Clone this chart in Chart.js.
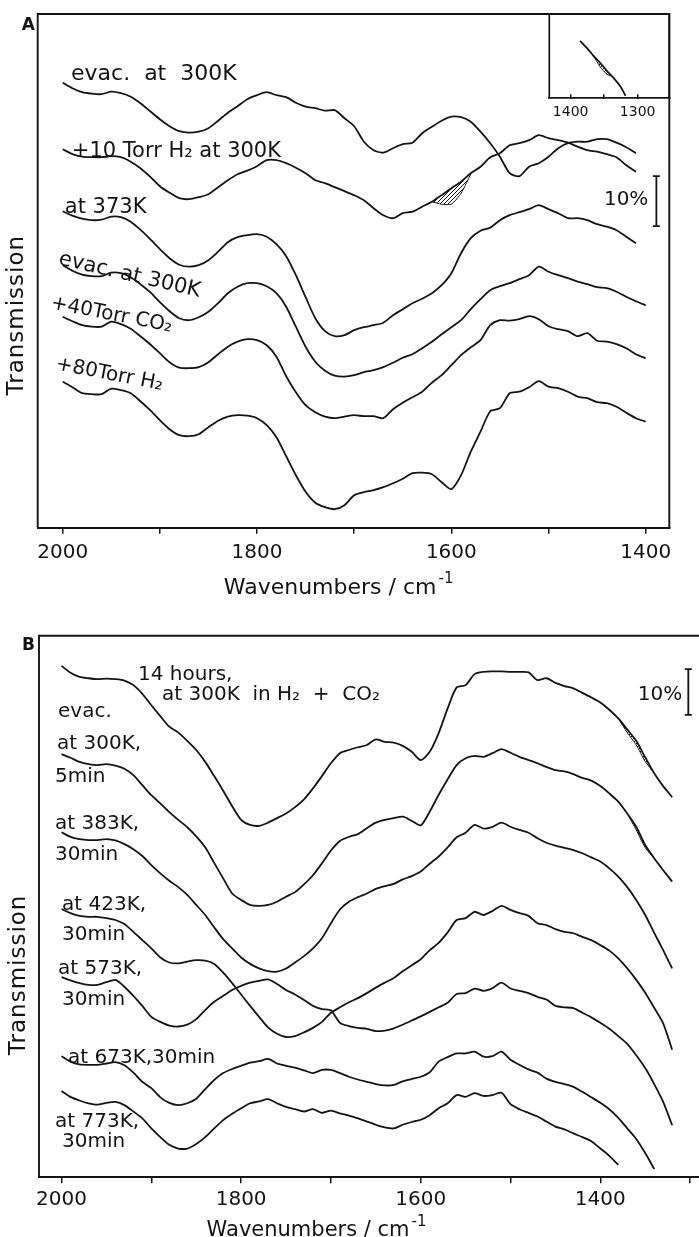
<!DOCTYPE html>
<html>
<head>
<meta charset="utf-8">
<title>IR spectra, panels A and B</title>
<script src="https://cdn.jsdelivr.net/npm/chart.js@4.4.1/dist/chart.umd.min.js"></script>
<style>
  html, body { margin: 0; padding: 0; background: #fff; }
  #wrap { position: relative; width: 699px; height: 1237px; overflow: hidden; background: #fff; }
  #wrap canvas { position: absolute; }
  #chartA { left: 0; top: 0; }
  #chartB { left: 0; top: 600px; }
  #inset { left: 540px; top: 0; }
</style>
</head>
<body>
<div id="wrap">
  <canvas id="chartA" width="699" height="600"></canvas>
  <canvas id="chartB" width="699" height="637"></canvas>
  <canvas id="inset" width="150" height="125"></canvas>
</div>
<script>
// ---- Panel A data (transmission in %, arbitrary offsets) ----
const wavenumbersA = [2000, 1990, 1980, 1970, 1960, 1950, 1940, 1930, 1920, 1910,
  1900, 1890, 1880, 1870, 1860, 1850, 1840, 1830, 1820, 1810,
  1800, 1790, 1780, 1770, 1760, 1750, 1740, 1730, 1720, 1710,
  1700, 1690, 1680, 1670, 1660, 1650, 1640, 1630, 1620, 1610,
  1600, 1590, 1580, 1570, 1560, 1550, 1540, 1530, 1520, 1510,
  1500, 1490, 1480, 1470, 1460, 1450, 1440, 1430, 1420, 1410, 1400];

// evac. at 300K
const evac300A = [89.0, 87.9, 87.1, 86.8, 86.7, 87.2, 86.9, 86.2, 84.9, 83.3,
  81.7, 80.3, 79.3, 79.0, 79.2, 79.9, 81.4, 83.0, 84.3, 85.7,
  86.5, 87.1, 86.5, 86.1, 85.0, 84.2, 83.9, 83.4, 83.5, 81.9,
  80.3, 77.2, 75.5, 75.0, 75.9, 76.7, 77.0, 78.9, 80.2, 81.4,
  82.2, 82.1, 81.2, 79.2, 76.9, 74.2, 70.9, 70.3, 72.2, 72.9,
  74.2, 75.9, 76.9, 77.2, 77.2, 77.7, 77.7, 77.0, 76.1, 74.9, null];
// +10 Torr H2 at 300K
const h2At300A = [75.7, 74.7, 74.2, 74.1, 74.1, 74.3, 74.1, 73.2, 71.9, 70.2,
  68.3, 67.0, 65.9, 65.7, 66.1, 66.7, 68.1, 69.5, 70.7, 71.4,
  72.3, 73.5, 73.5, 72.9, 72.0, 70.9, 69.5, 68.9, 68.1, 67.3,
  66.5, 65.5, 63.9, 62.5, 61.9, 62.9, 63.2, 64.2, 65.2, 66.5,
  67.9, 69.2, 70.9, 72.2, 74.1, 74.9, 76.5, 76.9, 77.5, 78.5,
  77.9, 77.5, 77.0, 76.2, 75.5, 75.2, 74.7, 74.1, 72.5, 71.2, null];
// at 373K
const at373A = [63.3, 62.4, 61.8, 61.5, 61.6, 62.2, 62.1, 61.2, 59.6, 57.7,
  55.7, 53.9, 52.6, 52.2, 52.5, 53.5, 55.2, 57.1, 58.1, 58.5,
  58.7, 58.2, 56.7, 54.3, 50.5, 46.1, 41.9, 39.3, 38.3, 38.5,
  39.5, 40.1, 40.5, 41.0, 42.5, 43.7, 44.9, 45.8, 46.9, 48.5,
  50.9, 54.9, 57.9, 59.4, 60.0, 61.5, 62.5, 63.1, 63.7, 64.5,
  63.7, 62.9, 61.9, 61.9, 61.5, 60.7, 60.2, 59.5, 58.2, 56.9, null];
// evac. at 300K (second)
const evacAgainA = [52.5, 51.4, 50.6, 50.3, 50.3, 51.0, 50.9, 50.1, 48.7, 47.1,
  45.1, 43.3, 41.9, 41.5, 42.1, 43.2, 44.9, 46.9, 48.2, 48.9,
  48.9, 48.3, 46.9, 44.2, 40.2, 36.2, 33.2, 31.4, 30.4, 30.2,
  30.5, 31.1, 31.5, 32.1, 33.0, 34.0, 34.7, 35.9, 37.2, 38.7,
  40.1, 41.5, 43.7, 45.7, 47.5, 48.3, 48.9, 49.7, 50.5, 52.2,
  51.2, 50.5, 49.9, 49.2, 48.7, 48.1, 47.9, 47.2, 46.2, 45.3, 44.5];
// +40 Torr CO2
const co2A = [42.2, 41.3, 40.5, 40.2, 40.2, 41.2, 40.7, 39.8, 38.3, 36.7,
  34.9, 33.1, 32.0, 31.9, 32.1, 33.1, 34.7, 36.2, 37.2, 37.7,
  37.5, 36.5, 34.2, 30.3, 27.1, 24.5, 23.1, 22.2, 21.9, 22.2,
  22.5, 22.3, 22.3, 21.9, 23.7, 25.0, 26.1, 27.2, 29.0, 30.5,
  32.5, 34.5, 36.1, 37.5, 40.5, 41.5, 41.4, 41.7, 42.3, 41.7,
  40.3, 39.7, 39.3, 38.3, 38.9, 37.4, 37.2, 36.7, 35.9, 34.7, 33.9];
// +80 Torr H2
const h2PlusA = [29.2, 28.1, 26.9, 26.7, 26.7, 27.8, 27.5, 26.9, 25.3, 23.5,
  21.5, 19.7, 18.5, 18.3, 18.7, 20.1, 21.4, 22.2, 22.5, 22.4,
  21.9, 20.5, 18.1, 14.3, 10.5, 7.2, 5.0, 4.1, 3.7, 4.5,
  6.5, 7.1, 7.5, 8.1, 8.9, 9.8, 10.9, 11.0, 10.7, 9.1,
  7.7, 10.5, 15.2, 19.2, 23.3, 23.9, 26.9, 27.2, 28.1, 29.3,
  28.2, 27.9, 27.2, 26.2, 25.9, 25.1, 24.9, 24.2, 23.0, 21.9, 21.2];
// hatched edge on the +10 Torr H2 trace
const hatchWnA = [1620, 1610, 1600, 1590, 1580];
const hatchEdgeA = [65.2, 64.7, 64.7, 66.9, 70.7];

// inset of panel A
const insetWn = [1386, 1376, 1366, 1356, 1346, 1336, 1326, 1318];
const insetTrace = [11.5, 10.1, 8.5, 7.1, 5.5, 4.1, 2.4, 0.5];
const insetHatchWn = [1366, 1356, 1346, 1338];
const insetHatchEdge = [8.5, 6.3, 4.8, 4.4];

// ---- Panel B data ----
const wavenumbersB = [2000, 1990, 1980, 1970, 1960, 1950, 1940, 1930, 1920, 1910,
  1900, 1890, 1880, 1870, 1860, 1850, 1840, 1830, 1820, 1810,
  1800, 1790, 1780, 1770, 1760, 1750, 1740, 1730, 1720, 1710,
  1700, 1690, 1680, 1670, 1660, 1650, 1640, 1630, 1620, 1610,
  1600, 1590, 1580, 1570, 1560, 1550, 1540, 1530, 1520, 1510,
  1500, 1490, 1480, 1470, 1460, 1450, 1440, 1430, 1420, 1410,
  1400, 1390, 1380, 1370, 1360, 1350, 1340, 1330, 1320];

// 14 hours at 300K in H2 + CO2
const hours14B = [111.9, 110.4, 109.5, 109.2, 109.0, 109.1, 109.0, 108.7, 107.7, 105.8,
  103.3, 100.9, 98.6, 97.3, 95.5, 93.5, 90.9, 87.8, 84.6, 81.2,
  78.2, 77.1, 76.9, 77.6, 78.6, 79.6, 81.0, 82.7, 85.1, 87.8,
  90.6, 92.8, 93.5, 94.1, 94.6, 95.8, 95.3, 95.1, 94.4, 93.1,
  91.3, 93.1, 97.2, 102.6, 107.2, 107.7, 110.1, 110.6, 110.7, 110.7,
  110.6, 110.6, 110.5, 108.8, 109.2, 108.2, 107.5, 107.0, 106.0, 105.0,
  103.9, 102.3, 100.4, 98.0, 95.5, 91.9, 88.4, 85.6, 83.2];
// evac. at 300K, 5min
const evac5minB = [92.6, 91.8, 90.9, 90.4, 90.2, 90.4, 90.1, 89.4, 88.0, 85.8,
  83.6, 81.8, 79.9, 78.2, 76.6, 74.6, 72.2, 68.8, 65.4, 62.1,
  60.7, 59.6, 59.4, 59.6, 60.3, 61.4, 62.4, 64.1, 66.1, 68.7,
  71.5, 73.6, 74.5, 75.1, 76.4, 77.6, 78.2, 78.6, 78.9, 78.0,
  77.0, 80.0, 83.7, 87.1, 90.2, 91.7, 92.2, 92.0, 92.8, 93.7,
  92.9, 92.0, 91.3, 90.6, 89.8, 89.1, 88.8, 88.2, 87.4, 86.8,
  85.6, 84.0, 82.2, 79.6, 76.7, 72.7, 69.8, 67.2, 64.7];
// at 383K, 30min
const at383B = [75.5, 74.5, 74.0, 73.8, 73.8, 74.0, 73.7, 72.9, 71.8, 70.3,
  68.3, 66.5, 64.9, 63.5, 61.8, 59.6, 57.4, 54.7, 52.1, 50.1,
  48.1, 46.7, 45.7, 45.1, 45.0, 45.7, 47.0, 48.4, 50.1, 52.3,
  55.6, 58.6, 60.3, 61.3, 62.1, 63.1, 63.7, 64.2, 65.2, 65.9,
  66.9, 68.6, 70.2, 72.2, 74.4, 75.4, 77.1, 76.3, 76.7, 77.6,
  76.7, 76.0, 75.4, 74.2, 73.2, 72.6, 72.1, 71.6, 70.9, 70.0,
  69.1, 67.6, 65.8, 63.5, 60.7, 57.4, 53.5, 49.7, 45.7];
// at 423K, 30min
const at423B = [58.7, 57.8, 57.2, 57.0, 57.0, 56.7, 56.3, 55.4, 53.7, 51.9,
  50.1, 48.1, 47.0, 46.8, 47.2, 47.5, 47.4, 46.7, 44.8, 42.5,
  40.0, 37.5, 35.1, 32.8, 31.4, 30.7, 30.9, 31.7, 32.7, 34.0,
  36.0, 37.2, 38.3, 39.2, 40.3, 41.5, 42.6, 43.6, 45.1, 46.4,
  47.7, 49.7, 51.3, 53.6, 56.3, 56.7, 58.1, 57.4, 58.3, 59.4,
  58.5, 57.8, 57.2, 55.6, 55.2, 54.3, 53.7, 53.4, 52.6, 51.9,
  50.8, 49.6, 47.9, 45.7, 43.2, 40.4, 37.1, 33.7, 27.9];
// at 573K, 30min
const at573B = [43.8, 43.1, 42.5, 42.1, 42.1, 42.7, 43.2, 41.7, 39.7, 37.5,
  35.1, 34.0, 33.2, 33.0, 33.4, 34.6, 36.6, 38.4, 39.7, 41.0,
  41.9, 42.6, 43.0, 43.3, 42.3, 41.0, 40.0, 38.8, 37.5, 36.8,
  36.5, 33.8, 33.1, 32.7, 32.5, 32.0, 32.1, 32.6, 33.4, 34.3,
  35.2, 36.2, 37.2, 38.2, 40.1, 40.3, 41.3, 40.8, 41.4, 42.6,
  41.3, 40.8, 40.3, 39.5, 38.9, 37.5, 37.2, 37.0, 36.0, 35.0,
  33.8, 32.5, 30.9, 29.2, 26.7, 23.9, 20.4, 16.5, 11.4];
// at 673K, 30min
const at673B = [26.5, 25.3, 24.7, 24.6, 24.6, 24.9, 25.2, 24.5, 22.9, 20.9,
  19.5, 17.5, 16.3, 15.8, 16.2, 17.2, 19.3, 21.3, 22.8, 23.7,
  24.4, 25.1, 25.4, 25.9, 24.9, 24.4, 24.0, 23.4, 22.8, 23.5,
  23.5, 22.8, 22.0, 21.4, 20.9, 20.4, 20.1, 20.2, 21.0, 21.5,
  22.0, 23.0, 25.3, 26.3, 27.1, 27.1, 27.5, 26.4, 26.5, 27.5,
  25.7, 24.6, 23.6, 22.9, 21.6, 20.9, 20.4, 19.8, 18.7, 17.5,
  16.3, 14.9, 13.0, 10.7, 8.4, 5.3, 1.8, null, null];
// at 773K, 30min
const at773B = [18.9, 17.6, 16.8, 16.2, 15.9, 16.3, 16.5, 15.8, 14.4, 12.9,
  10.7, 8.8, 7.1, 6.3, 6.3, 7.3, 8.8, 10.7, 12.5, 13.9,
  15.1, 16.2, 16.6, 17.1, 16.2, 15.4, 14.9, 14.4, 14.9, 14.1,
  14.6, 14.0, 13.5, 12.9, 12.2, 11.5, 10.9, 10.7, 11.5, 12.1,
  12.6, 13.6, 15.1, 16.2, 18.0, 17.6, 18.4, 17.8, 18.0, 18.5,
  16.0, 14.9, 14.1, 13.3, 12.2, 11.1, 10.5, 9.6, 8.8, 7.9,
  6.3, 4.7, 2.7, null, null, null, null, null, null];
// hatched edges near 1350 cm-1
const hatchWnB1 = [1380, 1370, 1360, 1350, 1340];
const hatchEdgeB1 = [100.4, 97.3, 94.6, 91.0, 88.4];
const hatchWnB2 = [1370, 1360, 1350, 1340];
const hatchEdgeB2 = [79.6, 76.0, 72.1, 69.8];

const INK = '#141414';
const FONT = '"DejaVu Sans", sans-serif';
Chart.defaults.font.family = FONT;
Chart.defaults.color = INK;

function toPoints(xs, ys) {
    const pts = [];
    ys.forEach((v, i) => {
        if (v !== null) pts.push({ x: xs[i], y: v });
    });
    return pts;
}

function hatchPattern() {
    const c = document.createElement('canvas');
    c.width = 4;
    c.height = 4;
    const g = c.getContext('2d');
    g.strokeStyle = INK;
    g.lineWidth = 1;
    g.beginPath();
    g.moveTo(0, 4); g.lineTo(4, 0);
    g.moveTo(-1, 1); g.lineTo(1, -1);
    g.moveTo(3, 5); g.lineTo(5, 3);
    g.stroke();
    return g.createPattern(c, 'repeat');
}

function trace(xs, ys) {
    return { data: toPoints(xs, ys), borderColor: INK, borderWidth: 1.8, fill: false };
}

function hatch(xs, ys, target) {
    return {
        data: toPoints(xs, ys), borderColor: INK, borderWidth: 1,
        fill: target, backgroundColor: hatchPattern(), tension: 0.2
    };
}

/**
 * Frame, panel letter, axis titles, curve labels and the 10% bar
 */
function makeDecor(cfg) {
    return {
        id: 'figureDecor',
        afterDraw(chart) {
            const ctx = chart.ctx;
            const area = chart.chartArea;
            const xs = chart.scales.x;
            const ys = chart.scales.y;
            ctx.save();
            ctx.strokeStyle = INK;
            ctx.fillStyle = INK;

            ctx.lineWidth = cfg.frameWidth;
            ctx.beginPath();
            ctx.moveTo(area.left, area.bottom);
            ctx.lineTo(area.left, area.top);
            ctx.lineTo(area.right, area.top);
            if (cfg.closeRight) ctx.lineTo(area.right, area.bottom);
            ctx.stroke();

            ctx.textAlign = 'left';
            ctx.textBaseline = 'alphabetic';
            if (cfg.letter) {
                ctx.font = 'bold 17px ' + FONT;
                ctx.fillText(cfg.letter.text, area.left + cfg.letter.dx, area.top + cfg.letter.dy);
            }

            // x title with a raised "-1"
            const xt = cfg.xTitle;
            if (xt) {
                ctx.font = xt.font;
                const w1 = ctx.measureText(xt.text).width;
                ctx.font = xt.supFont;
                const w2 = ctx.measureText(xt.sup).width;
                const x0 = xs.getPixelForValue(xt.x) - (w1 + w2 + 2) / 2;
                const yb = area.bottom + xt.dy;
                ctx.font = xt.font;
                ctx.fillText(xt.text, x0, yb);
                ctx.font = xt.supFont;
                ctx.fillText(xt.sup, x0 + w1 + 2, yb - xt.supRaise);
            }

            if (cfg.yTitle) {
                ctx.save();
                ctx.font = cfg.yTitle.font;
                ctx.letterSpacing = cfg.yTitle.spacing;
                ctx.translate(area.left + cfg.yTitle.dx, ys.getPixelForValue(cfg.yTitle.y));
                ctx.rotate(-Math.PI / 2);
                ctx.textAlign = 'center';
                ctx.textBaseline = 'middle';
                ctx.fillText(cfg.yTitle.text, 0, 0);
                ctx.restore();
            }

            (cfg.labels || []).forEach(l => {
                ctx.save();
                ctx.font = l.font;
                ctx.textAlign = 'left';
                ctx.textBaseline = 'alphabetic';
                ctx.translate(xs.getPixelForValue(l.x), ys.getPixelForValue(l.y));
                ctx.rotate((l.angle || 0) * Math.PI / 180);
                ctx.fillText(l.text, 0, 0);
                ctx.restore();
            });

            const sb = cfg.scaleBar;
            if (sb) {
                const bx = xs.getPixelForValue(sb.x);
                const y0 = ys.getPixelForValue(sb.y0);
                const y1 = ys.getPixelForValue(sb.y0 + sb.len);
                ctx.lineWidth = 1.8;
                ctx.beginPath();
                ctx.moveTo(bx, y0); ctx.lineTo(bx, y1);
                ctx.moveTo(bx - 3.5, y0); ctx.lineTo(bx + 3.5, y0);
                ctx.moveTo(bx - 3.5, y1); ctx.lineTo(bx + 3.5, y1);
                ctx.stroke();
                ctx.font = sb.font;
                ctx.textAlign = 'right';
                ctx.fillText(sb.text, bx - sb.gap, ys.getPixelForValue(sb.textY));
            }
            ctx.restore();
        }
    };
}

function spectrumOptions(o) {
    return {
        responsive: false,
        animation: false,
        devicePixelRatio: 1,
        layout: { padding: o.padding },
        plugins: { legend: { display: false }, tooltip: { enabled: false } },
        elements: { point: { radius: 0 }, line: { tension: 0.25 } },
        scales: {
            x: {
                type: 'linear',
                reverse: true,
                min: o.xMin,
                max: o.xMax,
                afterFit: function(scale) { scale.height = o.axisHeight; },
                border: { display: true, color: INK, width: o.axisWidth },
                grid: { drawOnChartArea: false, drawTicks: true, tickLength: o.tickLength, color: INK, lineWidth: 1.5 },
                ticks: {
                    stepSize: o.step,
                    autoSkip: false,
                    maxRotation: 0,
                    includeBounds: false,
                    padding: o.tickPadding,
                    color: INK,
                    font: { size: o.tickFont },
                    callback: v => (v % o.labelEvery === 0 ? String(v) : '')
                }
            },
            y: { display: false, min: 0, max: o.yMax }
        }
    };
}

// ---- Panel A ----
const labelsA = [
    { text: 'evac.  at  300K', x: 1991.4, y: 89.5, font: '22px ' + FONT },
    { text: '+10 Torr H\u2082 at 300K', x: 1990.6, y: 74.2, font: '21px ' + FONT },
    { text: 'at 373K', x: 1997.8, y: 62.9, font: '21px ' + FONT },
    { text: 'evac. at 300K', x: 2005.0, y: 52.7, angle: 13, font: '21px ' + FONT },
    { text: '+40Torr CO\u2082', x: 2013.0, y: 43.9, angle: 11, font: '20px ' + FONT },
    { text: '+80Torr H\u2082', x: 2007.9, y: 31.7, angle: 11, font: '20px ' + FONT }
];

new Chart(document.getElementById('chartA'), {
    type: 'line',
    data: {
        datasets: [
            trace(wavenumbersA, evac300A),
            trace(wavenumbersA, h2At300A),
            trace(wavenumbersA, at373A),
            trace(wavenumbersA, evacAgainA),
            trace(wavenumbersA, co2A),
            trace(wavenumbersA, h2PlusA),
            hatch(hatchWnA, hatchEdgeA, 1)
        ]
    },
    options: spectrumOptions({
        padding: { left: 37.7, right: 29.7, top: 14, bottom: 0 },
        xMin: 1375.7, xMax: 2025.7, yMax: 102.74,
        axisHeight: 72.3, axisWidth: 1.9, tickLength: 6, tickPadding: 7,
        step: 100, labelEvery: 200, tickFont: 20
    }),
    plugins: [makeDecor({
        frameWidth: 1.9,
        closeRight: true,
        letter: { text: 'A', dx: -16, dy: 16 },
        xTitle: { text: 'Wavenumbers / cm', sup: '-1', x: 1716, dy: 66.3,
                  font: '22px ' + FONT, supFont: '15px ' + FONT, supRaise: 11 },
        yTitle: { text: 'Transmission', dx: -20.7, y: 42.5, font: '23px ' + FONT, spacing: '1px' },
        labels: labelsA,
        scaleBar: { x: 1389, y0: 60.3, len: 10, textY: 64.5, gap: 8, text: '10%', font: '20px ' + FONT }
    })]
});

// ---- inset of panel A (ticks point into the box) ----
new Chart(document.getElementById('inset'), {
    type: 'line',
    data: {
        datasets: [
            trace(insetWn, insetTrace),
            hatch(insetHatchWn, insetHatchEdge, 0)
        ]
    },
    options: spectrumOptions({
        padding: { left: 9.3, right: 20.7, top: 14, bottom: 0 },
        xMin: 1252.8, xMax: 1431.9, yMax: 16.86,
        axisHeight: 26.7, axisWidth: 1.7, tickLength: -4, tickPadding: 9.5,
        step: 50, labelEvery: 100, tickFont: 14
    }),
    plugins: [makeDecor({ frameWidth: 1.7, closeRight: true })]
});

// ---- Panel B ----
const labelsB = [
    { text: '14 hours,', x: 1914.8, y: 108.8, font: '20px ' + FONT },
    { text: 'at 300K  in H\u2082  +  CO\u2082', x: 1888.1, y: 104.4, font: '20px ' + FONT },
    { text: 'evac.', x: 2003.9, y: 100.7, font: '20px ' + FONT },
    { text: 'at 300K,', x: 2005.0, y: 93.7, font: '20px ' + FONT },
    { text: '5min', x: 2007.2, y: 86.5, font: '20px ' + FONT },
    { text: 'at 383K,', x: 2007.2, y: 76.2, font: '20px ' + FONT },
    { text: '30min', x: 2007.2, y: 69.4, font: '20px ' + FONT },
    { text: 'at 423K,', x: 1999.4, y: 58.5, font: '20px ' + FONT },
    { text: '30min', x: 1999.4, y: 51.9, font: '20px ' + FONT },
    { text: 'at 573K,', x: 2003.9, y: 44.5, font: '20px ' + FONT },
    { text: '30min', x: 1999.4, y: 37.7, font: '20px ' + FONT },
    { text: 'at 673K,30min', x: 1992.8, y: 25.0, font: '20px ' + FONT },
    { text: 'at 773K,', x: 2007.2, y: 11.0, font: '20px ' + FONT },
    { text: '30min', x: 1999.4, y: 6.6, font: '20px ' + FONT }
];

new Chart(document.getElementById('chartB'), {
    type: 'line',
    data: {
        datasets: [
            trace(wavenumbersB, hours14B),
            trace(wavenumbersB, evac5minB),
            trace(wavenumbersB, at383B),
            trace(wavenumbersB, at423B),
            trace(wavenumbersB, at573B),
            trace(wavenumbersB, at673B),
            trace(wavenumbersB, at773B),
            hatch(hatchWnB1, hatchEdgeB1, 0),
            hatch(hatchWnB2, hatchEdgeB2, 1)
        ]
    },
    options: spectrumOptions({
        padding: { left: 39, right: 0, top: 35.7, bottom: 0 },
        xMin: 1290.1, xMax: 2025.1, yMax: 118.51,
        axisHeight: 59.7, axisWidth: 1.9, tickLength: 6, tickPadding: 4,
        step: 100, labelEvery: 200, tickFont: 20
    }),
    plugins: [makeDecor({
        frameWidth: 1.9,
        closeRight: false,
        letter: { text: 'B', dx: -17, dy: 14.3 },
        xTitle: { text: 'Wavenumbers / cm', sup: '-1', x: 1716, dy: 58.7,
                  font: '21px ' + FONT, supFont: '15px ' + FONT, supRaise: 10 },
        yTitle: { text: 'Transmission', dx: -20, y: 44.3, font: '23px ' + FONT, spacing: '1px' },
        labels: labelsB,
        scaleBar: { x: 1302, y0: 101.2, len: 10, textY: 104.4, gap: 6, text: '10%', font: '20px ' + FONT }
    })]
});
</script>
</body>
</html>
